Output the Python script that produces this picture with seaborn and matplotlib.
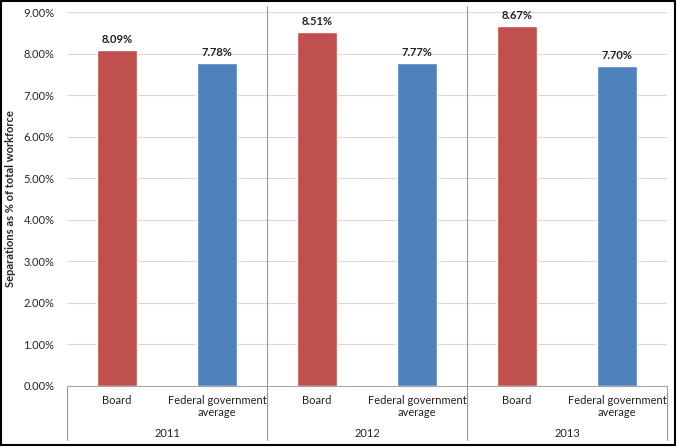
import pandas as pd
import matplotlib
matplotlib.use("Agg")
import matplotlib.pyplot as plt
import matplotlib.transforms as mtransforms
from matplotlib.patches import Rectangle
import seaborn as sns

# -----------------------------
# Data
# -----------------------------
years = ["2011", "2012", "2013"]
groups = ["Board", "Federal government\naverage"]
board_values = [8.09, 8.51, 8.67]
federal_values = [7.78, 7.77, 7.70]

colors = {"Board": "#C0504D", "Federal government\naverage": "#4F81BD"}

rows = []
for i, year in enumerate(years):
    rows.append({"slot": f"{year} B", "group": groups[0], "value": board_values[i]})
    rows.append({"slot": f"{year} F", "group": groups[1], "value": federal_values[i]})
df = pd.DataFrame(rows)

sns.set_style("white")
plt.rcParams["font.family"] = ["Lato", "DejaVu Sans"]

fig = plt.figure(figsize=(6.77, 4.47), dpi=100)
W, H = 677, 447
x0, x1, y0, y1 = 67, 667, 386, 12
ax = fig.add_axes([x0 / W, (H - y0) / H, (x1 - x0) / W, (y0 - y1) / H])

sns.barplot(data=df, x="slot", y="value", hue="group", palette=colors,
            dodge=False, width=0.4, legend=False, ax=ax, saturation=1)

ax.set_ylim(0, 9)
ax.set_xlim(-0.5, 5.5)
ax.set_yticks(range(0, 10))
ax.set_yticklabels([f"{v:.2f}%" for v in range(0, 10)], fontsize=8)
ax.tick_params(axis="y", length=0, pad=9)
ax.set_xticks([])
ax.set_xlabel("")
ax.set_ylabel("Separations as % of total workforce", fontsize=8, labelpad=5,
              fontweight="bold")
ax.grid(axis="y", color="#D9D9D9", linewidth=0.8)
ax.set_axisbelow(True)
for s in ["top", "right", "left"]:
    ax.spines[s].set_visible(False)
ax.spines["bottom"].set_color("#A6A6A6")
ax.spines["bottom"].set_linewidth(0.8)

# data labels
for i, v in enumerate(df["value"]):
    ax.text(i, v + 0.12, f"{v:.2f}%", ha="center", va="bottom", fontsize=8,
            fontweight="bold", color="#222222")

# multi-level category axis
trans = mtransforms.blended_transform_factory(ax.transData, ax.transAxes)
for i, row in df.iterrows():
    ax.text(i, -0.025, row["group"], ha="center", va="top", fontsize=8,
            transform=trans, linespacing=1.1, color="#222222")
for k, year in enumerate(years):
    ax.text(2 * k + 0.5, -0.126, year, ha="center", va="center", fontsize=8,
            transform=trans, color="#222222")

sep_color = "#999999"
for xs in [1.5, 3.5]:
    ax.plot([xs, xs], [-0.144, 1.016], color=sep_color, linewidth=0.8,
            transform=trans, clip_on=False)
for xs in [-0.5, 5.5]:
    ax.plot([xs, xs], [-0.144, 0], color=sep_color, linewidth=0.8,
            transform=trans, clip_on=False)

# outer border
fig.patches.append(Rectangle((0.002, 0.004), 0.995, 0.993, transform=fig.transFigure,
                             fill=False, edgecolor="black", linewidth=1.5))

fig.savefig("out.png", dpi=100)
